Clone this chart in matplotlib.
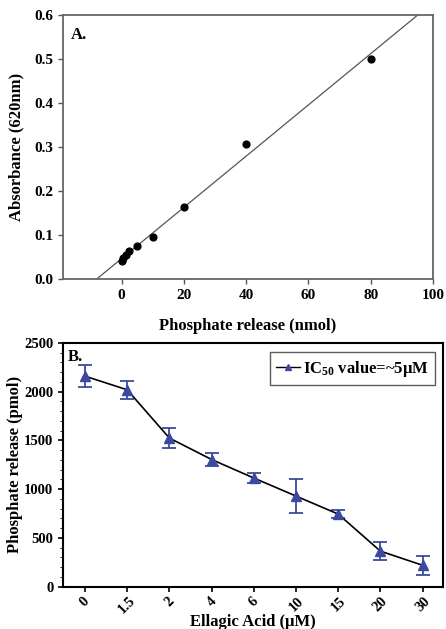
import numpy as np
import matplotlib
matplotlib.use("Agg")
import matplotlib.pyplot as plt
from matplotlib.ticker import MultipleLocator
from matplotlib.lines import Line2D

plt.rcParams['font.family'] = ['Liberation Serif', 'DejaVu Serif']
plt.rcParams['font.weight'] = 'bold'
plt.rcParams['mathtext.fontset'] = 'custom'
plt.rcParams['mathtext.rm'] = 'Liberation Serif:bold'
plt.rcParams['mathtext.default'] = 'rm'

# panel A: standard curve
std_x = [0, 0.5, 1.5, 2.5, 5, 10, 20, 40, 80]
std_y = [0.041, 0.047, 0.055, 0.064, 0.075, 0.095, 0.164, 0.306, 0.500]

# panel B: ellagic acid inhibition
conc_labels = ['0', '1.5', '2', '4', '6', '10', '15', '20', '30']
release = [2160, 2020, 1525, 1305, 1115, 930, 745, 365, 220]
release_err = [115, 95, 105, 70, 55, 175, 43, 90, 100]

fig = plt.figure(figsize=(4.46, 6.29), dpi=100)

axA = fig.add_axes([0.1413, 0.5564, 0.8297, 0.4196])
axA.scatter(std_x, std_y, s=24, color='black', zorder=3)
slope, icpt = np.polyfit(std_x, std_y, 1)
xx = np.array([-19, 100])
axA.plot(xx, slope*xx + icpt, color='#555555', lw=0.9)
axA.set_xlim(-18.8, 100)
axA.set_ylim(0, 0.6)
axA.set_xticks([0, 20, 40, 60, 80, 100])
axA.yaxis.set_major_locator(MultipleLocator(0.1))
axA.yaxis.set_major_formatter(matplotlib.ticker.FormatStrFormatter('%.1f'))
axA.tick_params(direction='out', labelsize=11, color='#555555', width=1)
for s in axA.spines.values():
    s.set_color('#666666')
    s.set_linewidth(1.3)
axA.set_xlabel('Phosphate release (nmol)', fontsize=12, fontweight='bold')
axA.xaxis.set_label_coords(0.5, -0.148)
axA.set_ylabel('Absorbance (620nm)', fontsize=12, fontweight='bold')
axA.yaxis.set_label_coords(-0.105, 0.5)
axA.text(0.022, 0.955, 'A.', transform=axA.transAxes, fontsize=12, fontweight='bold', va='top')

axB = fig.add_axes([0.1413, 0.0672, 0.8517, 0.3875])
pos = np.arange(len(conc_labels))
axB.errorbar(pos, release, yerr=release_err, color='black', lw=1.2,
             marker='^', ms=7, mfc='#3b4a9c', mec='#3b4a9c',
             ecolor='#3b4a9c', elinewidth=1.3, capsize=5, capthick=1.3)
axB.set_xlim(-0.52, 8.48)
axB.set_ylim(0, 2500)
axB.set_xticks(pos)
axB.set_xticklabels(conc_labels, rotation=45)
axB.yaxis.set_major_locator(MultipleLocator(500))
axB.yaxis.set_minor_locator(MultipleLocator(100))
axB.tick_params(direction='out', labelsize=10.5, width=1.2)
axB.tick_params(axis='x', pad=2)
axB.tick_params(which='minor', direction='out', length=2)
for s in axB.spines.values():
    s.set_color('black')
    s.set_linewidth(1.5)
axB.set_xlabel('Ellagic Acid (μM)', fontsize=12, fontweight='bold')
axB.xaxis.set_label_coords(0.5, -0.112)
axB.set_ylabel('Phosphate release (pmol)', fontsize=12, fontweight='bold')
axB.yaxis.set_label_coords(-0.106, 0.5)
axB.text(0.012, 0.975, 'B.', transform=axB.transAxes, fontsize=12, fontweight='bold', va='top')
handle = Line2D([], [], color='black', lw=1.0, marker='^', ms=4,
                mfc='#3b4a9c', mec='#3b4a9c')
leg = axB.legend([handle], [r'IC$_{50}$ value=~5μM'], loc='upper right', fontsize=12,
                 handlelength=1.4, fancybox=False, edgecolor='#333333',
                 borderpad=0.4, handletextpad=0.2, borderaxespad=0,
                 bbox_to_anchor=(0.98, 0.963))
leg.get_frame().set_linewidth(1.0)

fig.savefig('out.png', dpi=100)
